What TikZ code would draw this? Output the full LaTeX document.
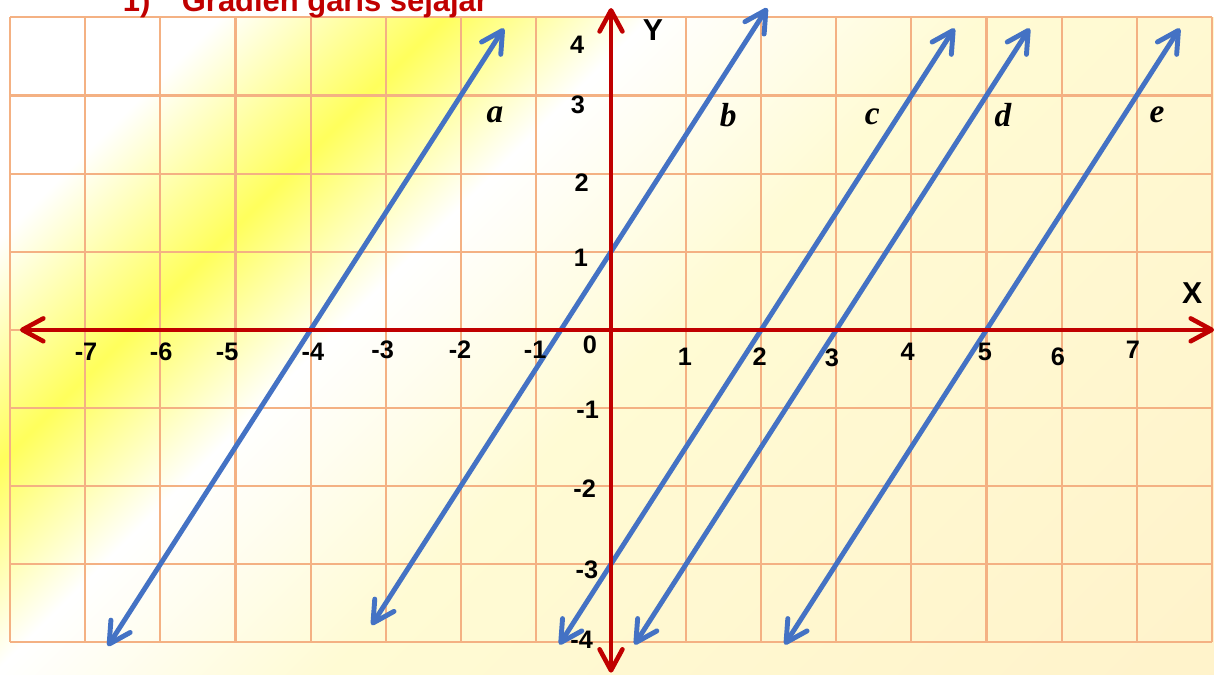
\documentclass[tikz,border=0pt]{standalone}
\usepackage{fontspec}
\setmainfont{Liberation Sans}
\newfontfamily\hurufmiring{Liberation Serif}
\usetikzlibrary{arrows.meta}

\definecolor{gridpeach}{HTML}{F4B183}
\definecolor{axisred}{HTML}{C00000}
\definecolor{lineblue}{HTML}{4472C4}
\definecolor{bgyellow}{HTML}{FFFF5C}
\definecolor{bgpale}{HTML}{FFFBD4}
\definecolor{bgcream}{HTML}{FFF2CA}
\pgfdeclarehorizontalshading{bgshade}{397bp}{color(0bp)=(white); color(57bp)=(white);
  color(102bp)=(bgyellow); color(143bp)=(white); color(210bp)=(bgpale); color(397bp)=(bgcream)}

\tikzset{
  gridline/.style={gridpeach,line width=0.6pt},
  axis/.style={axisred,line width=1.3pt},
  garis/.style={lineblue,line width=1.4pt},
  angka/.style={font=\bfseries\fontsize{7.2}{8}\selectfont,inner sep=0pt},
  sumbu/.style={font=\bfseries\fontsize{8.6}{9}\selectfont,inner sep=0pt},
  nama/.style={font=\hurufmiring\bfseries\itshape\fontsize{9.5}{10}\selectfont,inner sep=0pt}
}

\begin{document}
\begin{tikzpicture}[x=0.751cm,y=0.781cm,>={Straight Barb[length=6pt,width=6.5pt,round]}]
    \useasboundingbox (-8.136,4.223) rectangle (8.029,-4.407);
    % background
    \begin{scope}
      \clip (-8.136,4.0) rectangle (8.029,-4.407);
      \node[rotate=-45,inner sep=0pt] (latar) at (-0.053,-0.09) {\pgfuseshading{bgshade}};
    \end{scope}
    % grid
    \foreach \i in {-8,...,8}
      \draw[gridline] (\i,-4) -- (\i,4);
    \foreach \j in {-4,...,4}
      \draw[gridline] (-8,\j) -- (8,\j);
    % parallel lines, gradient 3/2
    \foreach \xo/\ylo/\yhi in {-4/-4.05/3.86, -0.6667/-3.78/4.12, 2/-4.03/3.86, 3/-4.03/3.86, 5/-4.03/3.86}
      \draw[garis,<->] ({\xo+\ylo/1.5},\ylo) -- ({\xo+\yhi/1.5},\yhi);
    \node[nama] (a) at (-1.545,2.75) {a};
    \node[nama] (b) at (1.56,2.75) {b};
    \node[nama] (c) at (3.48,2.73) {c};
    \node[nama] (d) at (5.22,2.75) {d};
    \node[nama] (e) at (7.27,2.75) {e};
    % axes
    \draw[axis,<->] (-7.87,0) -- (8.03,0);
    \draw[axis,<->] (0,-4.39) -- (0,4.12);
    \node[sumbu] (X) at (7.74,0.47) {X};
    \node[sumbu] (Y) at (0.56,3.84) {Y};
    \foreach \v/\px/\py in {-7/-6.99/-0.28, -6/-5.99/-0.28, -5/-5.11/-0.28, -4/-3.97/-0.28,
        -3/-3.04/-0.26, -2/-2.01/-0.26, -1/-1.01/-0.26, 0/-0.28/-0.19, 1/0.985/-0.35,
        2/1.98/-0.35, 3/2.94/-0.36, 4/3.95/-0.28, 5/4.98/-0.28, 6/5.95/-0.35, 7/6.95/-0.26}
      \node[angka] (x\v) at (\px,\py) {\v};
    \foreach \v/\px/\py in {4/-0.45/3.65, 3/-0.44/2.88, 2/-0.39/1.88, 1/-0.40/0.92,
        -1/-0.31/-1.03, -2/-0.35/-2.03, -3/-0.32/-3.07, -4/-0.39/-3.97}
      \node[angka] (y\v) at (\px,\py) {\v};
    % title
    \node[anchor=base west,inner sep=0pt,text=axisred,font=\bfseries\fontsize{8.8}{10}\selectfont]
      (judul) at (-6.51,4.07) {1)\hspace{9pt}Gradien garis sejajar};
\end{tikzpicture}
\end{document}
